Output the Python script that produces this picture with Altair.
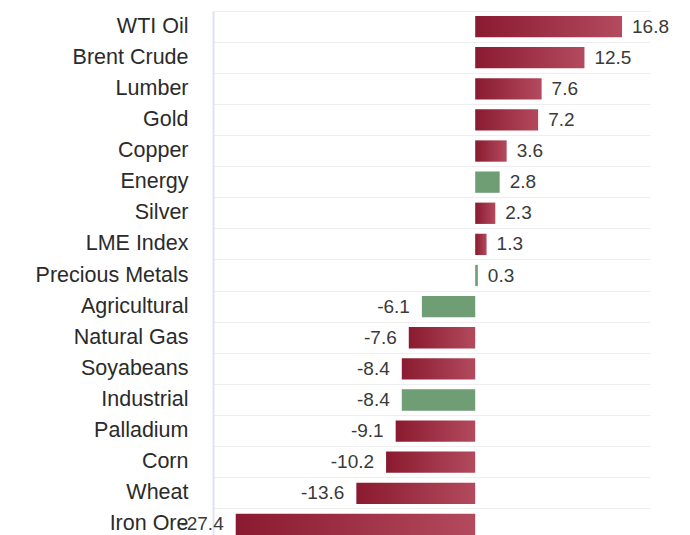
import altair as alt
import pandas as pd

categories = ["WTI Oil", "Brent Crude", "Lumber", "Gold", "Copper", "Energy", "Silver",
              "LME Index", "Precious Metals", "Agricultural", "Natural Gas", "Soyabeans",
              "Industrial", "Palladium", "Corn", "Wheat", "Iron Ore"]
values = [16.8, 12.5, 7.6, 7.2, 3.6, 2.8, 2.3, 1.3, 0.3, -6.1, -7.6, -8.4, -8.4, -9.1, -10.2, -13.6, -27.4]
groups = ["commodity", "commodity", "commodity", "commodity", "commodity", "index", "commodity",
          "commodity", "index", "index", "commodity", "commodity", "index", "commodity",
          "commodity", "commodity", "commodity"]

df = pd.DataFrame({"category": categories, "value": values, "group": groups})

x_scale = alt.Scale(domain=[-30, 20], nice=False, zero=False)
y_enc = alt.Y("category:N", sort=categories,
              scale=alt.Scale(paddingInner=0, paddingOuter=0),
              axis=alt.Axis(title=None, labelFontSize=21.5, labelFont="Liberation Sans",
                            labelColor="#2b2b2b", labelPadding=25, ticks=False,
                            domain=True, domainColor="#dde4f0", domainWidth=2,
                            grid=True, gridColor="#eeeeee", gridWidth=1, bandPosition=0))
x_enc = alt.X("value:Q", scale=x_scale, axis=None)

base = alt.Chart(df).transform_calculate(
    label="(datum.value < 0 ? '-' : '') + format(abs(datum.value), '.1f')"
)

red = base.transform_filter(alt.datum.group == "commodity").mark_bar(
    height=alt.RelativeBandSize(0.685),
    color=alt.Gradient(gradient="linear",
                       stops=[alt.GradientStop(color="#8a1a2f", offset=0),
                              alt.GradientStop(color="#b34a5d", offset=1)],
                       x1=0, x2=1, y1=0, y2=0)
).encode(x=x_enc, x2=alt.datum(0), y=y_enc)

green = base.transform_filter(alt.datum.group == "index").mark_bar(
    height=alt.RelativeBandSize(0.685), color="#6f9d74"
).encode(x=x_enc, x2=alt.datum(0), y=y_enc)

pos_text = base.transform_filter(alt.datum.value >= 0).mark_text(
    align="left", baseline="middle", dx=10, fontSize=19, font="Liberation Sans", color="#3a3a3a"
).encode(x=x_enc, y=y_enc, text="label:N")

neg_text = base.transform_filter(alt.datum.value < 0).mark_text(
    align="right", baseline="middle", dx=-12, fontSize=19, font="Liberation Sans", color="#3a3a3a"
).encode(x=x_enc, y=y_enc, text="label:N")

chart = alt.layer(red, green, pos_text, neg_text).properties(
    width=437, height=529,
    autosize=alt.AutoSizeParams(type="none"),
    padding={"left": 205, "top": 3, "right": 28, "bottom": 0}
).configure(background="white", view=alt.ViewConfig(stroke="transparent"))

chart.save("out.html", embed_options={"renderer": "svg", "actions": False})
